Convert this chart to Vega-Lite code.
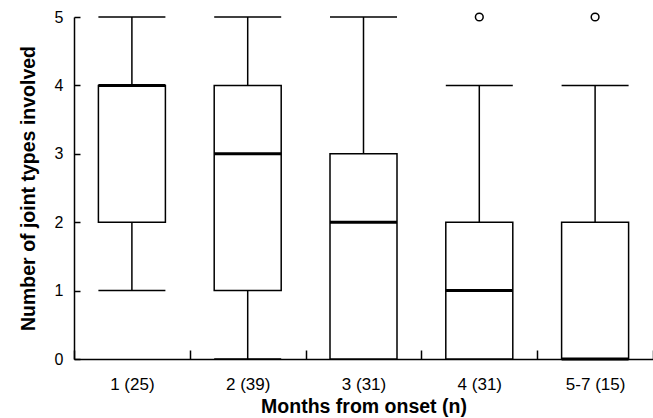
{
  "$schema": "https://vega.github.io/schema/vega-lite/v6.json",
  "width": 579,
  "height": 342,
  "autosize": "none",
  "padding": {"left": 74, "top": 17, "right": 0, "bottom": 59},
  "background": "white",
  "config": {
    "view": {"stroke": null},
    "font": "Liberation Sans",
    "axis": {"domainColor": "black", "tickColor": "black", "labelColor": "black", "titleColor": "black", "grid": false, "labelFont": "Liberation Sans", "titleFont": "Liberation Sans", "labelFontSize": 16, "titleFontSize": 19.5, "titleFontWeight": "bold", "domainWidth": 1.5, "tickWidth": 1.5}
  },
  "datasets": {
    "boxes": [
      {"month": "1 (25)", "lower": 1, "q1": 2, "median": 4, "q3": 4, "upper": 5},
      {"month": "2 (39)", "lower": 0, "q1": 1, "median": 3, "q3": 4, "upper": 5},
      {"month": "3 (31)", "lower": 0, "q1": 0, "median": 2, "q3": 3, "upper": 5},
      {"month": "4 (31)", "lower": 0, "q1": 0, "median": 1, "q3": 2, "upper": 4},
      {"month": "5-7 (15)", "lower": 0, "q1": 0, "median": 0, "q3": 2, "upper": 4}
    ],
    "outliers": [
      {"month": "4 (31)", "value": 5},
      {"month": "5-7 (15)", "value": 5}
    ]
  },
  "data": {"name": "boxes"},
  "encoding": {
    "x": {
      "field": "month", "type": "nominal",
      "sort": ["1 (25)", "2 (39)", "3 (31)", "4 (31)", "5-7 (15)"],
      "scale": {"domain": ["1 (25)", "2 (39)", "3 (31)", "4 (31)", "5-7 (15)"]},
      "axis": {"title": "Months from onset (n)", "labelAngle": 0, "tickBand": "extent", "tickSize": -9, "labelPadding": 26, "labelFontSize": 17, "titlePadding": 5}
    }
  },
  "layer": [
    {
      "mark": {"type": "rule", "color": "black", "strokeWidth": 1.5},
      "encoding": {
        "y": {"field": "lower", "type": "quantitative", "scale": {"domain": [0, 5], "nice": false},
          "axis": {"title": "Number of joint types involved", "values": [0, 1, 2, 3, 4, 5], "format": "d", "tickSize": -6, "labelPadding": 17, "titlePadding": 16}},
        "y2": {"field": "upper"}
      }
    },
    {
      "mark": {"type": "tick", "color": "black", "opacity": 1, "thickness": 1.5, "size": 67},
      "encoding": {"y": {"field": "lower", "type": "quantitative"}}
    },
    {
      "mark": {"type": "tick", "color": "black", "opacity": 1, "thickness": 1.5, "size": 67},
      "encoding": {"y": {"field": "upper", "type": "quantitative"}}
    },
    {
      "mark": {"type": "bar", "fill": "white", "stroke": "black", "strokeWidth": 1.5, "width": 67},
      "encoding": {"y": {"field": "q1", "type": "quantitative"}, "y2": {"field": "q3"}}
    },
    {
      "mark": {"type": "tick", "color": "black", "opacity": 1, "thickness": 3, "size": 67},
      "encoding": {"y": {"field": "median", "type": "quantitative"}}
    },
    {
      "data": {"name": "outliers"},
      "mark": {"type": "point", "shape": "circle", "filled": false, "stroke": "black", "opacity": 1, "strokeWidth": 1.5, "size": 60},
      "encoding": {"y": {"field": "value", "type": "quantitative"}}
    }
  ]
}
